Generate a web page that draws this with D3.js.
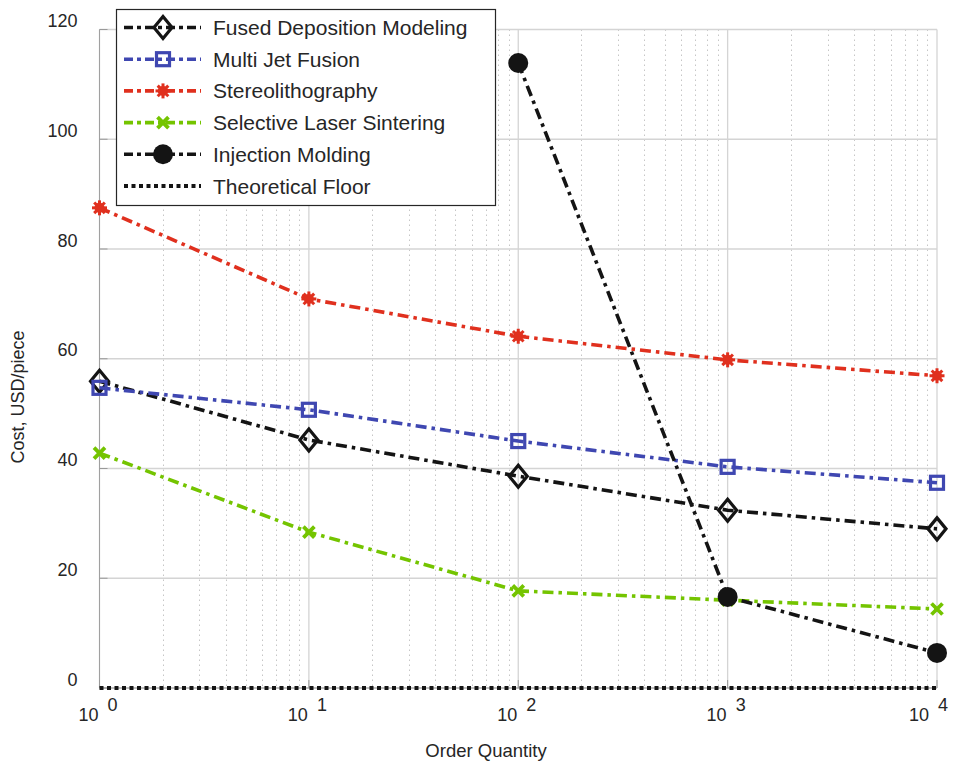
<!DOCTYPE html>
<html><head><meta charset="utf-8">
<script src="https://cdn.jsdelivr.net/npm/d3@7"></script>
<style>body{margin:0;background:#fff}svg{display:block}text{font-family:"Liberation Sans",Arial,sans-serif;fill:#262626}</style>
</head><body><svg id="c" width="953" height="763"></svg>
<script>
const quantities = [1, 10, 100, 1000, 10000];
const fdm = [55.9, 45.2, 38.6, 32.4, 29.0];
const mjf = [54.7, 50.7, 45.0, 40.3, 37.4];
const sla = [87.5, 70.9, 64.1, 59.8, 56.9];
const sls = [42.8, 28.4, 17.7, 16.0, 14.4];
const imQty = [100, 1000, 10000];
const im = [113.9, 16.6, 6.4];
const floorVals = [0, 0, 0, 0, 0];
const yTicks = [0, 20, 40, 60, 80, 100, 120];
const xTickExps = [0, 1, 2, 3, 4];
const seriesNames = ["Fused Deposition Modeling","Multi Jet Fusion","Stereolithography","Selective Laser Sintering","Injection Molding","Theoretical Floor"];

const svg = d3.select("#c");
const L=99.5, R=937, T=29.5, B=688;
const x = d3.scaleLog().domain([1,10000]).range([L,R]);
const y = d3.scaleLinear().domain([0,120]).range([B,T]);

// minor grid
const minor=[];
for(let e=0;e<4;e++) for(let k=2;k<=9;k++) minor.push(k*Math.pow(10,e));
svg.append("g").selectAll("line").data(minor).join("line")
 .attr("x1",d=>Math.round(x(d))+0.5).attr("x2",d=>Math.round(x(d))+0.5).attr("y1",T).attr("y2",B)
 .attr("stroke","#c6c6c6").attr("stroke-width",1).attr("stroke-dasharray","1.5,3.5");
// major grid
svg.append("g").selectAll("line").data(xTickExps).join("line")
 .attr("x1",d=>x(Math.pow(10,d))).attr("x2",d=>x(Math.pow(10,d))).attr("y1",T).attr("y2",B)
 .attr("stroke","#d4d4d4").attr("stroke-width",1.3);
svg.append("g").selectAll("line").data(yTicks).join("line")
 .attr("x1",L).attr("x2",R).attr("y1",d=>y(d)).attr("y2",d=>y(d))
 .attr("stroke","#d4d4d4").attr("stroke-width",1.3);
// axis lines
svg.append("line").attr("x1",L).attr("x2",L).attr("y1",T).attr("y2",B).attr("stroke","#a0a0a0").attr("stroke-width",1);
svg.append("line").attr("x1",L).attr("x2",R).attr("y1",B).attr("y2",B).attr("stroke","#a0a0a0").attr("stroke-width",1);
// tick marks
svg.append("g").selectAll("line").data(yTicks).join("line")
 .attr("x1",L).attr("x2",L+8).attr("y1",d=>y(d)).attr("y2",d=>y(d)).attr("stroke","#999");
svg.append("g").selectAll("line").data(xTickExps).join("line")
 .attr("x1",d=>x(Math.pow(10,d))).attr("x2",d=>x(Math.pow(10,d))).attr("y1",B).attr("y2",B-8).attr("stroke","#999");

// tick labels
svg.append("g").selectAll("text").data(yTicks).join("text")
 .attr("x",L-22).attr("y",d=>y(d)-2.5).attr("text-anchor","end").attr("font-size",18).text(d=>d);
const lastExp = xTickExps[xTickExps.length-1];
const xl = svg.append("g").selectAll("g").data(xTickExps).join("g");
xl.append("text").attr("x",d=>x(Math.pow(10,d))-(d===lastExp?8:1)).attr("y",B+33).attr("text-anchor","end").attr("font-size",18).text("10");
xl.append("text").attr("x",d=>x(Math.pow(10,d))+(d===lastExp?1:8)).attr("y",B+23).attr("text-anchor","start").attr("font-size",18).text(d=>d);

svg.append("text").attr("x",486).attr("y",757).attr("text-anchor","middle").attr("font-size",18.5).text("Order Quantity");
svg.append("text").attr("transform","translate(24,397) rotate(-90)").attr("text-anchor","middle").attr("font-size",18).text("Cost, USD/piece");

const DASHDOT="11,5,3.5,5";
const series=[
 {name:seriesNames[0],q:quantities,v:fdm,color:"#141414",marker:"diamond"},
 {name:seriesNames[1],q:quantities,v:mjf,color:"#3f47b1",marker:"square"},
 {name:seriesNames[2],q:quantities,v:sla,color:"#e0301e",marker:"star"},
 {name:seriesNames[3],q:quantities,v:sls,color:"#74c400",marker:"x"},
 {name:seriesNames[4],q:imQty,v:im,color:"#141414",marker:"circle"},
 {name:seriesNames[5],q:quantities,v:floorVals,color:"#141414",marker:"none"}
];

function drawMarker(g,type,cx,cy,color){
 if(type==="diamond"){
  g.append("path").attr("d",`M${cx},${cy-11}L${cx+9},${cy}L${cx},${cy+11}L${cx-9},${cy}Z`).attr("fill","none").attr("stroke",color).attr("stroke-width",3.2);
 } else if(type==="square"){
  g.append("rect").attr("x",cx-6.5).attr("y",cy-6.5).attr("width",13).attr("height",13).attr("fill","none").attr("stroke",color).attr("stroke-width",3.2);
 } else if(type==="star"){
  const r=7.5;
  for(let i=0;i<4;i++){const a=i*Math.PI/4;
   g.append("line").attr("x1",cx-r*Math.cos(a)).attr("y1",cy-r*Math.sin(a)).attr("x2",cx+r*Math.cos(a)).attr("y2",cy+r*Math.sin(a)).attr("stroke",color).attr("stroke-width",3);}
  g.append("circle").attr("cx",cx).attr("cy",cy).attr("r",5).attr("fill",color);
 } else if(type==="x"){
  const r=5.5;
  g.append("path").attr("d",`M${cx-r},${cy-r}L${cx+r},${cy+r}M${cx-r},${cy+r}L${cx+r},${cy-r}`).attr("stroke",color).attr("stroke-width",3.8);
 } else if(type==="circle"){
  g.append("circle").attr("cx",cx).attr("cy",cy).attr("r",10).attr("fill",color);
 }
}

const line=d3.line().x(d=>x(d[0])).y(d=>y(d[1]));
series.forEach(s=>{
 const pts=s.q.map((q,i)=>[q,s.v[i]]);
 const g=svg.append("g");
 if(s.marker==="none"){
  g.append("path").attr("d",line(pts)).attr("fill","none").attr("stroke",s.color).attr("stroke-width",4).attr("stroke-dasharray","4,3.5");
 } else {
  g.append("path").attr("d",line(pts)).attr("fill","none").attr("stroke",s.color).attr("stroke-width",3.6).attr("stroke-dasharray",DASHDOT);
  pts.forEach(p=>drawMarker(g,s.marker,x(p[0]),y(p[1]),s.color));
 }
});

// legend
const lg=svg.append("g");
lg.append("rect").attr("x",116.5).attr("y",9.5).attr("width",379).attr("height",196).attr("fill","#fff").attr("stroke","#262626").attr("stroke-width",1.2);
series.forEach((s,i)=>{
 const cy=27.5+i*31.7;
 if(s.marker==="none"){
  lg.append("line").attr("x1",124).attr("x2",201).attr("y1",cy).attr("y2",cy).attr("stroke",s.color).attr("stroke-width",4).attr("stroke-dasharray","4,3.5");
 } else {
  lg.append("line").attr("x1",124).attr("x2",201).attr("y1",cy).attr("y2",cy).attr("stroke",s.color).attr("stroke-width",3.6).attr("stroke-dasharray","9,4,4,4");
  drawMarker(lg,s.marker,163,cy,s.color);
 }
 lg.append("text").attr("x",213).attr("y",cy+7.5).attr("font-size",21).text(s.name);
});
</script></body></html>
